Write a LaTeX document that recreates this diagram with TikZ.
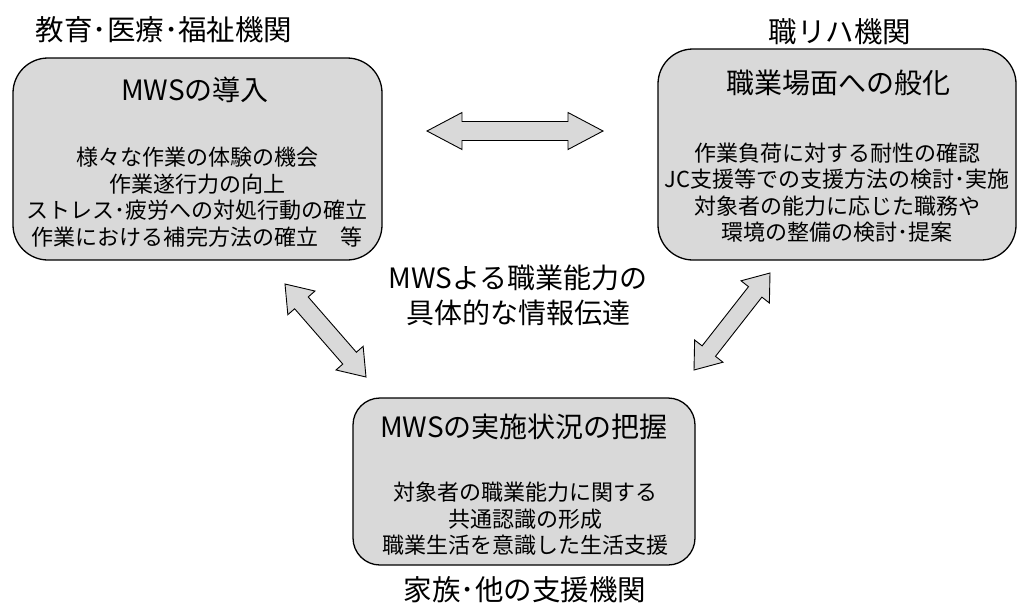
\documentclass[tikz,border=0pt]{standalone}
\usepackage{fontspec}
\setmainfont{Noto Sans CJK JP}
\usetikzlibrary{calc}
\definecolor{boxgray}{RGB}{217,217,217}
\newcommand\blockarrow[5]{%
 \draw[barrow] (#1) -- ($(#1)!#3!(#2)!#5!90:(#2)$) -- ($(#1)!#3!(#2)!#4!90:(#2)$)
  -- ($(#2)!#3!(#1)!#4!-90:(#1)$) -- ($(#2)!#3!(#1)!#5!-90:(#1)$) -- (#2)
  -- ($(#2)!#3!(#1)!#5!90:(#1)$) -- ($(#2)!#3!(#1)!#4!90:(#1)$)
  -- ($(#1)!#3!(#2)!#4!-90:(#2)$) -- ($(#1)!#3!(#2)!#5!-90:(#2)$) -- cycle;}
\begin{document}
\begin{tikzpicture}[x=1pt,y=-1pt,
  box/.style={draw=black, line width=1.3pt, fill=boxgray, inner sep=0pt},
  barrow/.style={draw=black, line width=0.9pt, fill=boxgray, line join=miter},
  label/.style={inner sep=0pt, font=\fontsize{28.5}{32}\selectfont},
  title/.style={inner sep=0pt, font=\fontsize{28}{32}\selectfont},
  body/.style={inner sep=0pt, align=center, font=\fontsize{22}{26.5}\selectfont},
  mid/.style={inner sep=0pt, align=center, font=\fontsize{28}{35}\selectfont}]
\useasboundingbox (0,0) rectangle (1019,603);
\clip (0,0) rectangle (1019,603);
% boxes
\node[box, rounded corners=35pt, minimum width=369pt, minimum height=202pt] (b1) at (197.5,159) {};
\node[box, rounded corners=35pt, minimum width=358pt, minimum height=211pt] (b2) at (837,154.5) {};
\node[box, rounded corners=27pt, minimum width=342pt, minimum height=167pt] (b3) at (524,481.5) {};
% labels
\node[label] (l1) at (164,30) {教育･医療･福祉機関};
\node[label] (l2) at (840,32) {職リハ機関};
\node[label] (l3) at (525,590) {家族･他の支援機関};
% titles
\node[title] (t1) at (195,90) {MWSの導入};
\node[title] (t2) at (838,83) {職業場面への般化};
\node[title] (t3) at (524,427) {MWSの実施状況の把握};
% bodies
\node[body] (x1) at (197,197) {様々な作業の体験の機会\\作業遂行力の向上\\ストレス･疲労への対処行動の確立\\作業における補完方法の確立　等};
\node[body] (x2) at (837,192.5) {作業負荷に対する耐性の確認\\JC支援等での支援方法の検討･実施\\対象者の能力に応じた職務や\\環境の整備の検討･提案};
\node[body] (x3) at (525,519) {対象者の職業能力に関する\\共通認識の形成\\職業生活を意識した生活支援};
% middle
\node[mid] (m) at (518,295.5) {MWSよる職業能力の\\具体的な情報伝達};
% arrows
\coordinate (ha) at (427,131);
\coordinate (hb) at (603,131);
\coordinate (la) at (285,284);
\coordinate (lb) at (366,377);
\coordinate (ra) at (770,273);
\coordinate (rb) at (694,370);
\blockarrow{ha}{hb}{35pt}{9.5pt}{18.5pt}
\blockarrow{la}{lb}{25pt}{9pt}{18pt}
\blockarrow{ra}{rb}{24pt}{8.5pt}{18pt}
\end{tikzpicture}
\end{document}
